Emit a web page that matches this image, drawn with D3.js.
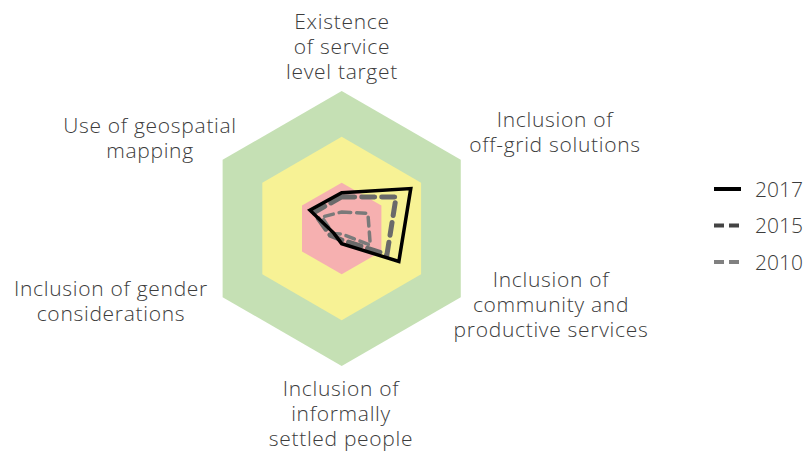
<!DOCTYPE html>
<html>
<head>
<meta charset="utf-8">
<script src="https://cdn.jsdelivr.net/npm/d3@7"></script>
<style>
  body { margin: 0; background: #fff; }
  svg text { font-family: "Open Sans", "Noto Sans", sans-serif; fill: #3c3c3c; }
</style>
</head>
<body>
<div id="chart"></div>
<script>
// axes, clockwise from the top
const axes = [
  ["Existence", "of service", "level target"],
  ["Inclusion of", "off-grid solutions"],
  ["Inclusion of", "community and", "productive services"],
  ["Inclusion of", "informally", "settled people"],
  ["Inclusion of gender", "considerations"],
  ["Use of geospatial", "mapping"]
];

const years = ["2017", "2015", "2010"];
const values2017 = [0.78, 1.74, 1.44, 0.33, 0.2, 0.8];
const values2015 = [0.69, 1.37, 1.14, 0.25, 0.29, 0.7];
const values2010 = [0.36, 0.66, 0.72, 0.12, 0.22, 0.5];

const bandLevels = [3, 2, 1];
const bandColors = ["#c5e0b4", "#f7f295", "#f6b0b0"];

const width = 805, height = 451;
const cx = 341.7, cy = 228.5;

const svg = d3.select('#chart')
    .append('svg')
    .attr('width', width)
    .attr('height', height);

const g = svg.append('g').attr('transform', `translate(${cx},${cy})`);

const r = d3.scaleLinear().domain([0, 3]).range([0, 137.5]);
const angle = d3.scalePoint().domain(d3.range(axes.length)).range([0, 2 * Math.PI * 5 / 6]);

const radial = d3.lineRadial()
    .angle((d, i) => angle(i))
    .radius(d => r(d))
    .curve(d3.curveLinearClosed);

// background hexagons
g.selectAll('path.band')
    .data(bandLevels)
    .enter()
    .append('path')
    .attr('class', 'band')
    .attr('d', lvl => radial(axes.map(() => lvl)))
    .attr('fill', (d, i) => bandColors[i]);

const series = [
  { year: "2010", values: values2010, color: "#7a7a7a", width: 3.5, dash: "9,6" },
  { year: "2015", values: values2015, color: "#6a6a6a", width: 5, dash: "13,7" },
  { year: "2017", values: values2017, color: "#000", width: 3.5, dash: null }
];

g.selectAll('path.series')
    .data(series)
    .enter()
    .append('path')
    .attr('class', 'series')
    .attr('d', d => radial(d.values))
    .attr('fill', 'none')
    .attr('stroke', d => d.color)
    .attr('stroke-width', d => d.width)
    .attr('stroke-dasharray', d => d.dash)
    .attr('stroke-linecap', d => d.dash ? 'round' : 'butt')
    .attr('stroke-linejoin', 'miter');

// axis labels
const labelPos = [
  { x: 342, y: 28.5 },
  { x: 555, y: 126.5 },
  { x: 551, y: 287 },
  { x: 341, y: 395.5 },
  { x: 111, y: 296 },
  { x: 150, y: 132.5 }
];
const lineH = 25;

svg.selectAll('text.axis')
    .data(axes)
    .enter()
    .append('text')
    .attr('class', 'axis')
    .attr('text-anchor', 'middle')
    .attr('font-size', 21)
    .attr('font-weight', 300)
    .attr('letter-spacing', 0.7)
    .each(function (lines, i) {
        d3.select(this).selectAll('tspan')
            .data(lines)
            .enter()
            .append('tspan')
            .attr('x', labelPos[i].x)
            .attr('y', (d, j) => labelPos[i].y + j * lineH)
            .text(d => d);
    });

// legend
const legendStyles = {
  "2017": { color: "#000", dash: null },
  "2015": { color: "#444", dash: "10,5" },
  "2010": { color: "#808080", dash: "10,5" }
};
const legend = svg.selectAll('g.legend')
    .data(years)
    .enter()
    .append('g')
    .attr('class', 'legend')
    .attr('transform', (d, i) => `translate(714,${189 + i * 36.5})`);

legend.append('line')
    .attr('x1', 0).attr('x2', 27)
    .attr('stroke', d => legendStyles[d].color)
    .attr('stroke-width', 4)
    .attr('stroke-dasharray', d => legendStyles[d].dash);

legend.append('text')
    .attr('x', 41)
    .attr('y', 7.5)
    .attr('font-size', 21)
    .attr('font-weight', 300)
    .text(d => d);
</script>
</body>
</html>
